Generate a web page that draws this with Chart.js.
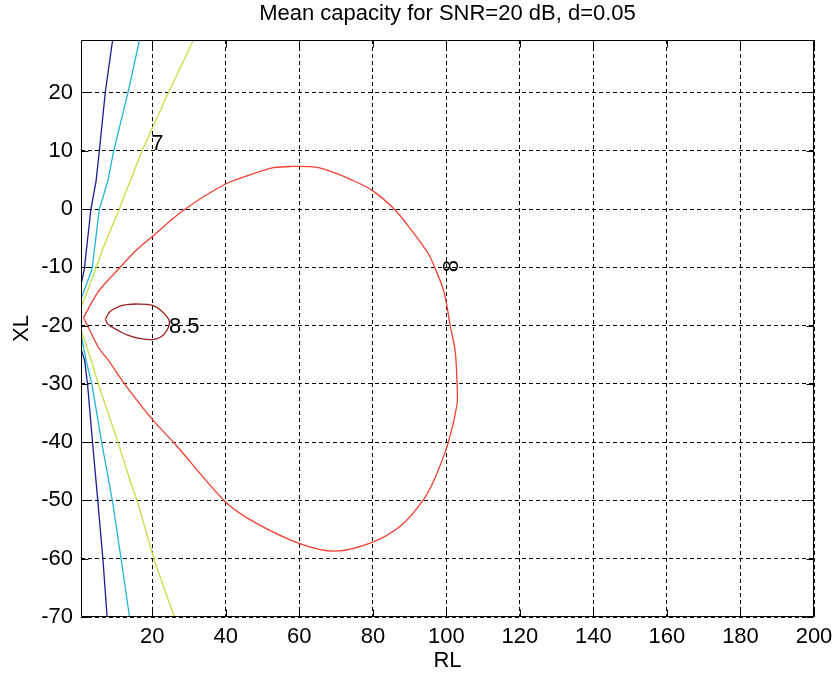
<!DOCTYPE html>
<html>
<head>
<meta charset="utf-8">
<title>Mean capacity contours</title>
<script src="https://cdn.jsdelivr.net/npm/chart.js@4.4.0/dist/chart.umd.min.js"></script>
<style>
    html, body { margin: 0; padding: 0; background: #fff; }
    #wrap { width: 835px; height: 676px; }
</style>
</head>
<body>
<div id="wrap"><canvas id="capacityChart" width="835" height="676"></canvas></div>
<script>
// Mean capacity for SNR=20 dB, d=0.05 - contour plot over RL / XL
// Contour points are [RL, XL] pairs

const xTicks = [20, 40, 60, 80, 100, 120, 140, 160, 180, 200];
const yTicks = [-70, -60, -50, -40, -30, -20, -10, 0, 10, 20];

// lowest level (dark blue), two branches cut by the RL axis limit
const blueUpper = [[9.2, 29], [7.2, 20], [5.6, 10], [4.7, 4.8], [3.3, 0], [1.5, -10.3], [0.6, -13]];
const blueLower = [[0.6, -24], [1.6, -26], [2.4, -30.2], [3.8, -40.5], [5.2, -50.3], [6.6, -60.4], [7.7, -70]];

// next level (cyan)
const cyanUpper = [[16.5, 29], [13.4, 20], [9.5, 10], [7.9, 4.8], [5.6, 0], [3.6, -10.3], [0.6, -15.5]];
const cyanLower = [[0.6, -21.5], [2.0, -26], [3.6, -30.2], [6.3, -40.3], [9.2, -50.3], [11.6, -60.4], [13.8, -70]];

// level 7 (yellow-green)
const level7Upper = [[31.2, 29], [24.4, 20], [17.2, 10], [14, 4.8], [11, 0], [6.3, -7.2], [4.6, -10.3], [0.6, -17]];
const level7Lower = [[0.6, -20.8], [3.4, -26], [5.4, -30.2], [10.8, -40.3], [14, -46.7], [16, -50.3], [20.6, -60.4], [26, -70]];

// level 8 (red), closed loop
const level8 = [
    [1.3, -18.6], [5.4, -14.1], [10.8, -10.3], [15.4, -7.2], [20, -4.7], [28.5, -0.2], [39.9, 4.3],
    [46.7, 5.9], [53, 7.1], [58, 7.3], [64.4, 7.2], [68.4, 6.5], [73.9, 5.1], [79.8, 3.2], [86.1, -0.2],
    [90.7, -3.8], [95.2, -7.8], [97, -10.3], [99.3, -14.1], [101.1, -20.2], [102.4, -24.4], [102.9, -30.1],
    [102.9, -33.5], [100.4, -40.3], [96.5, -46.7], [93.4, -50.2], [87.5, -54.4], [79.8, -57.2], [69.8, -58.7],
    [60.1, -57.4], [48, -53.8], [40, -50.3], [26.3, -40.4], [20, -36.1], [12.7, -30.2], [8.1, -26],
    [5.4, -23.8], [1.3, -18.6]
];

// level 8.5 (dark red), closed loop
const level85 = [
    [7.2, -18.9], [8.5, -17.6], [11, -16.7], [13.1, -16.4], [16, -16.3], [19.9, -16.5], [22.5, -17.5],
    [24.6, -19.2], [24, -20.8], [22.2, -22.0], [19.9, -22.4], [16.5, -22.2], [13.1, -21.6], [10, -20.6],
    [8, -19.8], [7.2, -18.9]
];

const contourLabels = ['7', '8.5', '8'];
const labelRL = [21.4, 28.7, 101.6];
const labelXL = [11.1, -20.2, -9.8];

const FONT = { family: "'Liberation Sans', Arial, sans-serif", size: 22, weight: 'normal' };
// taller line box for the RL ticks so a small padding still drops them below the axis
const X_TICK_FONT = { ...FONT, lineHeight: 1.6 };

const pts = arr => arr.map(([x, y]) => ({ x, y }));

function line(data, color, tension = 0) {
    return {
        data: pts(data),
        showLine: true,
        borderColor: color,
        borderWidth: 1.3,
        pointRadius: 0,
        tension: tension,
        fill: false
    };
}

// MATLAB style box, inward ticks and clabel texts
const matlabAxes = {
    id: 'matlabAxes',
    afterDatasetsDraw(chart) {
        const { ctx, scales: { x, y } } = chart;
        ctx.save();
        ctx.fillStyle = '#000';
        ctx.font = `${FONT.size}px ${FONT.family}`;
        ctx.textAlign = 'center';
        ctx.textBaseline = 'middle';
        contourLabels.forEach((txt, i) => {
            const px = x.getPixelForValue(labelRL[i]);
            const py = y.getPixelForValue(labelXL[i]);
            if (txt === '8') {
                ctx.save();
                ctx.translate(px, py);
                ctx.rotate(-Math.PI / 2);
                ctx.fillText(txt, 0, 0);
                ctx.restore();
            } else {
                ctx.fillText(txt, px, py);
            }
        });
        ctx.restore();
    },
    afterDraw(chart) {
        const { ctx, chartArea: a, scales: { x, y } } = chart;
        const L = Math.round(a.left) + 0.5, R = Math.round(a.right) - 0.5;
        const T = Math.round(a.top) + 0.5, B = Math.round(a.bottom) - 0.5;
        const tick = 7;
        ctx.save();
        ctx.strokeStyle = '#000';
        ctx.lineWidth = 1;
        ctx.beginPath();
        ctx.rect(L, T, R - L, B - T);
        xTicks.forEach(v => {
            const px = Math.round(x.getPixelForValue(v)) + 0.5;
            ctx.moveTo(px, B); ctx.lineTo(px, B - tick);
            ctx.moveTo(px, T); ctx.lineTo(px, T + tick);
        });
        yTicks.forEach(v => {
            const py = Math.round(y.getPixelForValue(v)) + 0.5;
            ctx.moveTo(L, py); ctx.lineTo(L + tick, py);
            ctx.moveTo(R, py); ctx.lineTo(R - tick, py);
        });
        ctx.stroke();
        ctx.restore();
    }
};

const ctx = document.getElementById('capacityChart');

new Chart(ctx, {
    type: 'scatter',
    data: {
        datasets: [
            line(blueUpper, '#1c1c90'),
            line(blueLower, '#1c1c90'),
            line(cyanUpper, '#22b6d6'),
            line(cyanLower, '#22b6d6'),
            line(level7Upper, '#c2e040'),
            line(level7Lower, '#c2e040'),
            line(level8, '#f04030', 0.3),
            line(level85, '#9c2222', 0.3)
        ]
    },
    options: {
        responsive: false,
        animation: false,
        devicePixelRatio: 1,
        layout: { padding: { top: 0, right: 21, bottom: 0, left: 0 } },
        plugins: {
            legend: { display: false },
            tooltip: { enabled: false },
            title: {
                display: true,
                text: 'Mean capacity for SNR=20 dB, d=0.05',
                color: '#000',
                font: FONT,
                fullSize: false,
                padding: { top: 1, bottom: 12.6 }
            }
        },
        scales: {
            x: {
                type: 'linear',
                min: 0.6,
                max: 200,
                afterBuildTicks: scale => { scale.ticks = xTicks.map(v => ({ value: v })); },
                afterFit: scale => { scale.height = 59; },
                grid: { color: '#000', lineWidth: 1, drawTicks: false },
                border: { display: false, dash: [4, 3] },
                ticks: { color: '#000', font: X_TICK_FONT, padding: 2, maxRotation: 0, autoSkip: false },
                title: { display: true, text: 'RL', color: '#000', font: FONT, padding: { top: 0, bottom: 2 } }
            },
            y: {
                type: 'linear',
                min: -70,
                max: 29,
                afterBuildTicks: scale => { scale.ticks = yTicks.map(v => ({ value: v })); },
                afterFit: scale => { scale.width = 81; },
                grid: { color: '#000', lineWidth: 1, drawTicks: false },
                border: { display: false, dash: [4, 3] },
                ticks: { color: '#000', font: FONT, padding: 8, autoSkip: false },
                title: { display: true, text: 'XL', color: '#000', font: FONT, padding: { top: 9, bottom: 0 } }
            }
        }
    },
    plugins: [matlabAxes]
});
</script>
</body>
</html>
